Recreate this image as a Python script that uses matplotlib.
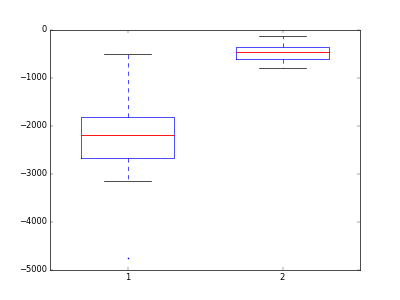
import matplotlib
matplotlib.use("Agg")
import matplotlib.pyplot as plt

plt.style.use("classic")

labels = ["1", "2"]
whislo = [-3145, -790]
q1 = [-2665, -595]
med = [-2180, -455]
q3 = [-1810, -350]
whishi = [-500, -120]
fliers = [[-4740], []]

stats = []
for i in range(len(labels)):
    stats.append(dict(label=labels[i], whislo=whislo[i], q1=q1[i], med=med[i],
                      q3=q3[i], whishi=whishi[i], fliers=fliers[i]))

fig = plt.figure(figsize=(8, 6), dpi=50, facecolor="white")
ax = fig.add_subplot(111)
ax.bxp(stats, positions=[1, 2], widths=0.6, showfliers=True,
       boxprops=dict(color="b"), medianprops=dict(color="r", linewidth=1.3),
       whiskerprops=dict(color="b", linestyle="--"), capprops=dict(color="k"),
       flierprops=dict(marker="+", markeredgecolor="b", markersize=3,
                       markeredgewidth=0.8, linestyle="none"))
ax.set_xlim(0.5, 2.5)
ax.set_ylim(-5000, 0)
ax.set_yticks([-5000, -4000, -3000, -2000, -1000, 0])
fig.savefig("out.png", dpi=50, facecolor="white")
